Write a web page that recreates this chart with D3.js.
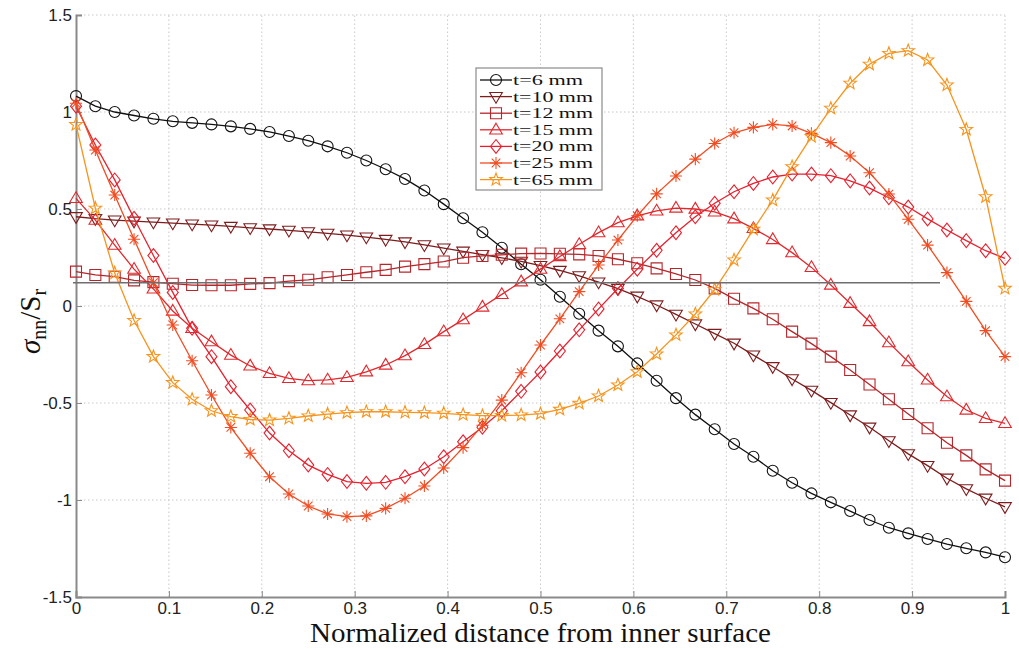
<!DOCTYPE html>
<html>
<head>
<meta charset="utf-8">
<script src="https://cdn.jsdelivr.net/npm/d3@7"></script>
<style>
  html, body { margin: 0; padding: 0; background: #fff; }
  svg { display: block; }
</style>
</head>
<body>
<svg id="chart" width="1019" height="650"></svg>
<script>
// Normal stress through the wall thickness for several wall thicknesses
const seriesNames = ["t=6 mm", "t=10 mm", "t=12 mm", "t=15 mm", "t=20 mm", "t=25 mm", "t=65 mm"];
const seriesColors = ["#111111", "#7d1c1c", "#b5262b", "#e2282d", "#e8202e", "#f24c22", "#f7941d"];
const seriesSymbols = ["circle", "triangleDown", "square", "triangleUp", "diamond", "asterisk", "star"];

// 49 equally spaced stations across the normalized thickness
const nPoints = 49;
const xStations = d3.range(nPoints).map(i => i / (nPoints - 1));

const t6 = [1.082, 1.03, 1.00, 0.982, 0.965, 0.952, 0.944, 0.936, 0.926, 0.913, 0.897, 0.876, 0.852, 0.823, 0.79,
  0.75, 0.705, 0.655, 0.595, 0.525, 0.452, 0.38, 0.30, 0.215, 0.135, 0.048, -0.04, -0.127, -0.208, -0.296,
  -0.385, -0.475, -0.56, -0.635, -0.711, -0.777, -0.849, -0.911, -0.966, -1.012, -1.057, -1.103, -1.143, -1.172,
  -1.201, -1.227, -1.249, -1.27, -1.295];
const t10 = [0.46, 0.45, 0.443, 0.437, 0.432, 0.427, 0.422, 0.417, 0.41, 0.403, 0.397, 0.39, 0.382, 0.374, 0.365,
  0.355, 0.343, 0.33, 0.315, 0.298, 0.282, 0.265, 0.248, 0.23, 0.208, 0.183, 0.155, 0.123, 0.09, 0.05,
  0.005, -0.043, -0.093, -0.142, -0.192, -0.253, -0.313, -0.376, -0.435, -0.498, -0.562, -0.625, -0.695, -0.762,
  -0.823, -0.888, -0.943, -0.991, -1.035];
const t12 = [0.177, 0.16, 0.151, 0.132, 0.123, 0.115, 0.108, 0.107, 0.107, 0.114, 0.118, 0.128, 0.135, 0.148, 0.16,
  0.174, 0.186, 0.203, 0.216, 0.229, 0.249, 0.258, 0.264, 0.27, 0.271, 0.269, 0.266, 0.258, 0.241, 0.22,
  0.194, 0.165, 0.134, 0.091, 0.037, -0.012, -0.068, -0.132, -0.194, -0.261, -0.33, -0.405, -0.481, -0.557,
  -0.63, -0.705, -0.77, -0.842, -0.9];
const t15 = [0.555, 0.443, 0.314, 0.19, 0.088, -0.026, -0.115, -0.184, -0.253, -0.309, -0.347, -0.373, -0.385, -0.381, -0.368,
  -0.339, -0.304, -0.256, -0.198, -0.132, -0.07, -0.005, 0.06, 0.125, 0.19, 0.255, 0.318, 0.378, 0.43, 0.465,
  0.49, 0.505, 0.5, 0.485, 0.45, 0.4, 0.343, 0.275, 0.199, 0.108, 0.014, -0.08, -0.189, -0.287,
  -0.381, -0.467, -0.536, -0.579, -0.605];
const t20 = [1.03, 0.83, 0.65, 0.452, 0.26, 0.07, -0.115, -0.261, -0.416, -0.536, -0.655, -0.746, -0.82, -0.868, -0.905,
  -0.914, -0.909, -0.88, -0.84, -0.777, -0.7, -0.625, -0.54, -0.44, -0.34, -0.232, -0.123, -0.015, 0.09, 0.19,
  0.287, 0.378, 0.46, 0.53, 0.589, 0.632, 0.665, 0.68, 0.68, 0.672, 0.645, 0.608, 0.558, 0.51,
  0.449, 0.392, 0.337, 0.285, 0.246];
const t25 = [1.045, 0.804, 0.572, 0.344, 0.12, -0.098, -0.282, -0.459, -0.626, -0.759, -0.88, -0.969, -1.031, -1.072, -1.086,
  -1.082, -1.043, -0.991, -0.928, -0.835, -0.73, -0.615, -0.485, -0.344, -0.201, -0.066, 0.074, 0.211, 0.34, 0.465,
  0.578, 0.67, 0.757, 0.838, 0.893, 0.921, 0.936, 0.928, 0.89, 0.842, 0.773, 0.687, 0.577, 0.447,
  0.314, 0.172, 0.024, -0.127, -0.261];
const t65 = [0.935, 0.504, 0.17, -0.075, -0.261, -0.395, -0.481, -0.54, -0.57, -0.585, -0.588, -0.579, -0.567, -0.557, -0.55,
  -0.545, -0.545, -0.548, -0.55, -0.553, -0.56, -0.565, -0.565, -0.562, -0.555, -0.533, -0.502, -0.464, -0.407, -0.339,
  -0.247, -0.149, -0.041, 0.085, 0.237, 0.395, 0.546, 0.718, 0.873, 1.019, 1.148, 1.246, 1.302, 1.316,
  1.268, 1.139, 0.91, 0.563, 0.091];

const seriesValues = [t6, t10, t12, t15, t20, t25, t65];

// Reference level drawn as a plain horizontal line
const refLevel = 0.12;
const refExtent = [0, 0.93];

const xTicks = d3.range(0, 11).map(i => i / 10);
const yTicks = [-1.5, -1, -0.5, 0, 0.5, 1, 1.5];
const xTickLabels = ["0", "0.1", "0.2", "0.3", "0.4", "0.5", "0.6", "0.7", "0.8", "0.9", "1"];
const yTickLabels = ["-1.5", "-1", "-0.5", "0", "0.5", "1", "1.5"];

const svg = d3.select("#chart");
const margin = { left: 76, right: 14, top: 15, bottom: 53 };
const W = 1019, H = 650;
const x = d3.scaleLinear().domain([0, 1]).range([margin.left, W - margin.right]);
const y = d3.scaleLinear().domain([-1.5, 1.5]).range([H - margin.bottom, margin.top]);

// Dotted grid
const grid = svg.append("g").attr("stroke", "#c8c8c8").attr("stroke-width", 1).attr("stroke-dasharray", "1.5,2.5");
grid.selectAll("line.gx").data(xTicks.slice(1)).join("line")
  .attr("x1", d => x(d)).attr("x2", d => x(d))
  .attr("y1", y(-1.5)).attr("y2", y(1.5));
grid.selectAll("line.gy").data(yTicks.slice(1)).join("line")
  .attr("x1", x(0)).attr("x2", x(1))
  .attr("y1", d => y(d)).attr("y2", d => y(d));

// Axes
const xAxis = d3.axisBottom(x).tickValues(xTicks).tickFormat((d, i) => xTickLabels[i]).tickSize(-6).tickPadding(5);
const yAxis = d3.axisLeft(y).tickValues(yTicks).tickFormat((d, i) => yTickLabels[i]).tickSize(-6).tickPadding(4);

const gx = svg.append("g").attr("transform", `translate(0,${y(-1.5)})`).call(xAxis);
const gy = svg.append("g").attr("transform", `translate(${x(0)},0)`).call(yAxis);
[gx, gy].forEach(g => {
  g.select(".domain").attr("stroke", "#8a8a8a").attr("stroke-width", 2);
  g.selectAll(".tick line").attr("stroke", "#8a8a8a").attr("stroke-width", 1);
  g.selectAll(".tick text").attr("fill", "#222").attr("font-family", "'Liberation Sans', Arial, sans-serif").attr("font-size", 17);
});

// Marker shapes
function markerPath(kind, r) {
  switch (kind) {
    case "circle": return d3.symbol(d3.symbolCircle, Math.PI * r * r)();
    case "square": return `M${-r},${-r}H${r}V${r}H${-r}Z`;
    case "diamond": return `M0,${-r * 1.25}L${r},0L0,${r * 1.25}L${-r},0Z`;
    case "triangleUp": return `M0,${-r * 1.2}L${r * 1.15},${r * 0.75}L${-r * 1.15},${r * 0.75}Z`;
    case "triangleDown": return `M0,${r * 1.2}L${r * 1.15},${-r * 0.75}L${-r * 1.15},${-r * 0.75}Z`;
    case "asterisk": {
      let p = "";
      for (let k = 0; k < 4; k++) {
        const a = k * Math.PI / 4;
        const dx = Math.cos(a) * r * 1.1, dy = Math.sin(a) * r * 1.1;
        p += `M${-dx},${-dy}L${dx},${dy}`;
      }
      return p;
    }
    case "star": {
      const pts = [];
      for (let k = 0; k < 10; k++) {
        const a = -Math.PI / 2 + k * Math.PI / 5;
        const rr = k % 2 === 0 ? r * 1.2 : r * 0.5;
        pts.push([Math.cos(a) * rr, Math.sin(a) * rr]);
      }
      return "M" + pts.map(p => p.join(",")).join("L") + "Z";
    }
  }
}

const line = d3.line().x((d, i) => x(xStations[i])).y(d => y(d));
const plot = svg.append("g");

seriesValues.forEach((vals, s) => {
  const g = plot.append("g");
  g.append("path").datum(vals).attr("d", line)
    .attr("fill", "none").attr("stroke", seriesColors[s]).attr("stroke-width", 1.3);
  g.selectAll("path.m").data(vals).join("path").attr("class", "m")
    .attr("transform", (d, i) => `translate(${x(xStations[i])},${y(d)})`)
    .attr("d", markerPath(seriesSymbols[s], 5.5))
    .attr("fill", "none").attr("stroke", seriesColors[s]).attr("stroke-width", 1.1);
});

// Reference line
svg.append("line")
  .attr("x1", x(refExtent[0]) - 3).attr("x2", x(refExtent[1]))
  .attr("y1", y(refLevel)).attr("y2", y(refLevel))
  .attr("stroke", "#6e6e6e").attr("stroke-width", 1.6);

// Legend
const lg = svg.append("g").attr("transform", "translate(476,68)");
lg.append("rect").attr("width", 126).attr("height", 122)
  .attr("fill", "#fff").attr("stroke", "#8a8a8a").attr("stroke-width", 1.2);
seriesNames.forEach((name, s) => {
  const cy = 12 + s * 16.6;
  lg.append("line").attr("x1", 4).attr("x2", 36).attr("y1", cy).attr("y2", cy)
    .attr("stroke", seriesColors[s]).attr("stroke-width", 1.3);
  lg.append("path").attr("transform", `translate(20,${cy})`)
    .attr("d", markerPath(seriesSymbols[s], 5.5))
    .attr("fill", "none").attr("stroke", seriesColors[s]).attr("stroke-width", 1.1);
  lg.append("text").attr("x", 37).attr("y", cy + 5)
    .attr("font-family", "'Liberation Serif', 'Times New Roman', serif").attr("font-size", 14)
    .attr("textLength", name.length > 6 ? 80 : 70).attr("lengthAdjust", "spacingAndGlyphs")
    .attr("fill", "#111").text(name);
});

// Axis titles
svg.append("text").attr("x", x(0.5)).attr("y", 642).attr("text-anchor", "middle")
  .attr("font-family", "'Liberation Serif', 'Times New Roman', serif").attr("font-size", 27)
  .attr("textLength", 461).attr("lengthAdjust", "spacingAndGlyphs")
  .attr("fill", "#111").text("Normalized distance from inner surface");

const yl = svg.append("text").attr("transform", `translate(40,${y(-0.08)}) rotate(-90)`)
  .attr("text-anchor", "middle")
  .attr("font-family", "'Liberation Serif', 'Times New Roman', serif").attr("font-size", 29).attr("fill", "#111");
yl.append("tspan").attr("font-style", "italic").text("σ");
yl.append("tspan").attr("font-size", 20).attr("dy", 6).text("nn");
yl.append("tspan").attr("dy", -6).text("/S");
yl.append("tspan").attr("font-size", 20).attr("dy", 6).text("r");
</script>
</body>
</html>
